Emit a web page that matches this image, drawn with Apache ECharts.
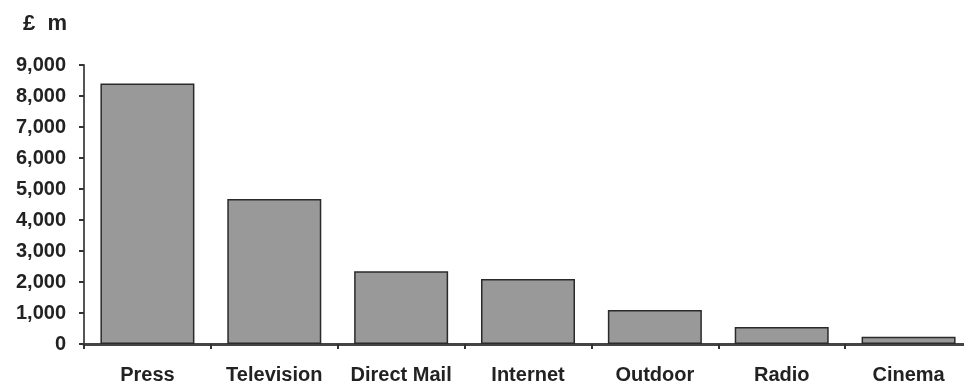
<!DOCTYPE html>
<html>
<head>
<meta charset="utf-8">
<script src="https://cdn.jsdelivr.net/npm/echarts@6/dist/echarts.min.js"></script>
<style>
  html, body { margin: 0; padding: 0; background: #fff; overflow: hidden; }
  #chart { width: 972px; height: 390px; }
</style>
</head>
<body>
<div id="chart"></div>
<script>
// Advertising spend by medium, £ million
const categories = ['Press', 'Television', 'Direct Mail', 'Internet', 'Outdoor', 'Radio', 'Cinema'];
const spend = [8400, 4680, 2350, 2100, 1100, 550, 230];
const yMin = 0;
const yMax = 9000;
const yStep = 1000;
const unitLabel = '£  m';

const chart = echarts.init(document.getElementById('chart'));
const font = '"Liberation Sans", Arial, sans-serif';
const ink = '#222';

chart.setOption({
  animation: false,
  textStyle: { fontFamily: font },
  title: {
    text: unitLabel,
    left: 18,
    top: 8,
    textStyle: { fontFamily: font, fontSize: 22, fontWeight: 'bold', color: ink }
  },
  grid: { left: 84, right: 0, top: 65, bottom: 46, containLabel: false },
  xAxis: {
    type: 'category',
    data: categories,
    axisLine: { lineStyle: { color: '#444', width: 3 } },
    axisTick: { show: true, length: 5, lineStyle: { color: '#333', width: 2 } },
    axisLabel: {
      margin: 21,
      fontSize: 20,
      fontWeight: 'bold',
      color: ink,
      fontFamily: font,
      interval: 0
    },
    splitLine: { show: false }
  },
  yAxis: {
    type: 'value',
    min: yMin,
    max: yMax,
    interval: yStep,
    axisLine: { show: true, lineStyle: { color: '#555', width: 2 } },
    axisTick: { show: true, length: 5, lineStyle: { color: '#333', width: 2 } },
    axisLabel: {
      margin: 18,
      fontSize: 20,
      fontWeight: 'bold',
      color: ink,
      fontFamily: font,
      formatter: v => v.toLocaleString('en-US')
    },
    splitLine: { show: false }
  },
  series: [{
    type: 'bar',
    data: spend,
    barWidth: 94,
    itemStyle: { color: '#999999', borderColor: '#2a2a2a', borderWidth: 1.5 }
  }]
});
</script>
</body>
</html>
